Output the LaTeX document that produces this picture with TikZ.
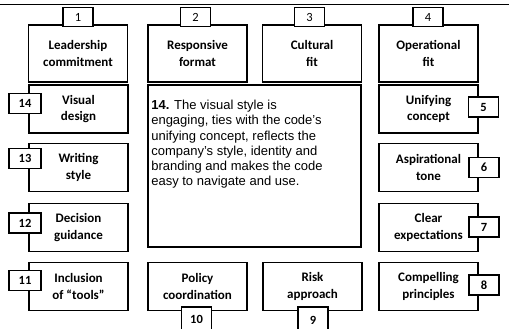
\documentclass[tikz,border=0pt]{standalone}
\usepackage{fontspec}
\setmainfont{Carlito}
\newfontfamily\arialfont{Liberation Sans}
\begin{document}
\begin{tikzpicture}[x=1pt,y=-1pt,
  lbl/.style={draw, line width=1.8pt, fill=white, inner sep=0pt, align=center,
    font=\fontsize{13}{16.5}\selectfont\bfseries, minimum width=99pt, minimum height=48pt},
  toplbl/.style={lbl, minimum height=57pt},
  numbox/.style={draw, line width=1.8pt, fill=white, inner sep=0pt,
    minimum width=30pt, minimum height=20pt, font=\fontsize{12.5}{14}\selectfont\bfseries},
  topnum/.style={numbox, minimum height=19pt, font=\fontsize{12.5}{14}\selectfont},
  bignote/.style={draw, line width=1.8pt, fill=white, inner sep=0pt,
    minimum width=213pt, minimum height=162pt}
]
\useasboundingbox (0,0) rectangle (522,329);
\clip (0,0) rectangle (522,329);
\coordinate (tl) at (0,5);
\coordinate (tr) at (509,5);
\draw[line width=1pt] (tl) -- (tr);

% top row
\node[toplbl] (b1) at (78,53.5) {Leadership\\commitment};
\node[toplbl] (b2) at (197.5,53.5) {Responsive\\format};
\node[toplbl] (b3) at (312,53.5) {Cultural\\fit};
\node[toplbl] (b4) at (428.5,53.5) {Operational\\fit};
\node[topnum] (n1) at (78,17) {1};
\node[topnum] (n2) at (195.5,17) {2};
\node[topnum] (n3) at (309.5,17) {3};
\node[topnum] (n4) at (428,17) {4};

% left column
\node[lbl] (b14) at (78.5,109) {Visual\\design};
\node[lbl] (b13) at (78.5,167.5) {Writing\\style};
\node[lbl] (b12) at (78.5,227.5) {Decision\\guidance};
\node[lbl] (b11) at (78.5,286.5) {Inclusion\\of “tools”};
\node[numbox, minimum width=32pt] (n14) at (25,103.5) {14};
\node[numbox, minimum width=32pt] (n13) at (25,158.5) {13};
\node[numbox, minimum width=32pt] (n12) at (25,223) {12};
\node[numbox, minimum width=32pt] (n11) at (25,280.5) {11};

% right column
\node[lbl] (b5) at (428.5,109) {Unifying\\concept};
\node[lbl] (b6) at (428.5,167.5) {Aspirational\\tone};
\node[lbl] (b7) at (428.5,227.5) {Clear\\expectations};
\node[lbl] (b8) at (428.5,286.5) {Compelling\\principles};
\node[numbox] (n5) at (483.5,107) {5};
\node[numbox] (n6) at (484,167.5) {6};
\node[numbox] (n7) at (484,227) {7};
\node[numbox] (n8) at (484,285) {8};

% bottom row
\node[lbl] (b10) at (197.5,286.5) {Policy\\coordination};
\node[lbl] (b9) at (312.5,286.5) {Risk\\approach};
\node[numbox, minimum height=26pt, anchor=north] (n10) at (196.5,306) {10};
\node[numbox, minimum height=26pt, anchor=north] (n9) at (313,306) {9};

% central description
\node[bignote] (c) at (254.5,166) {};
\node[anchor=north west, inner sep=0pt, align=left,
  font=\arialfont\fontsize{13}{15.2}\selectfont] (ctext) at ([xshift=4pt,yshift=-16pt]c.north west)
  {\textbf{14.} The visual style is\\
   engaging, ties with the code’s\\
   unifying concept, reflects the\\
   company’s style, identity and\\
   branding and makes the code\\
   easy to navigate and use.};
\end{tikzpicture}
\end{document}
